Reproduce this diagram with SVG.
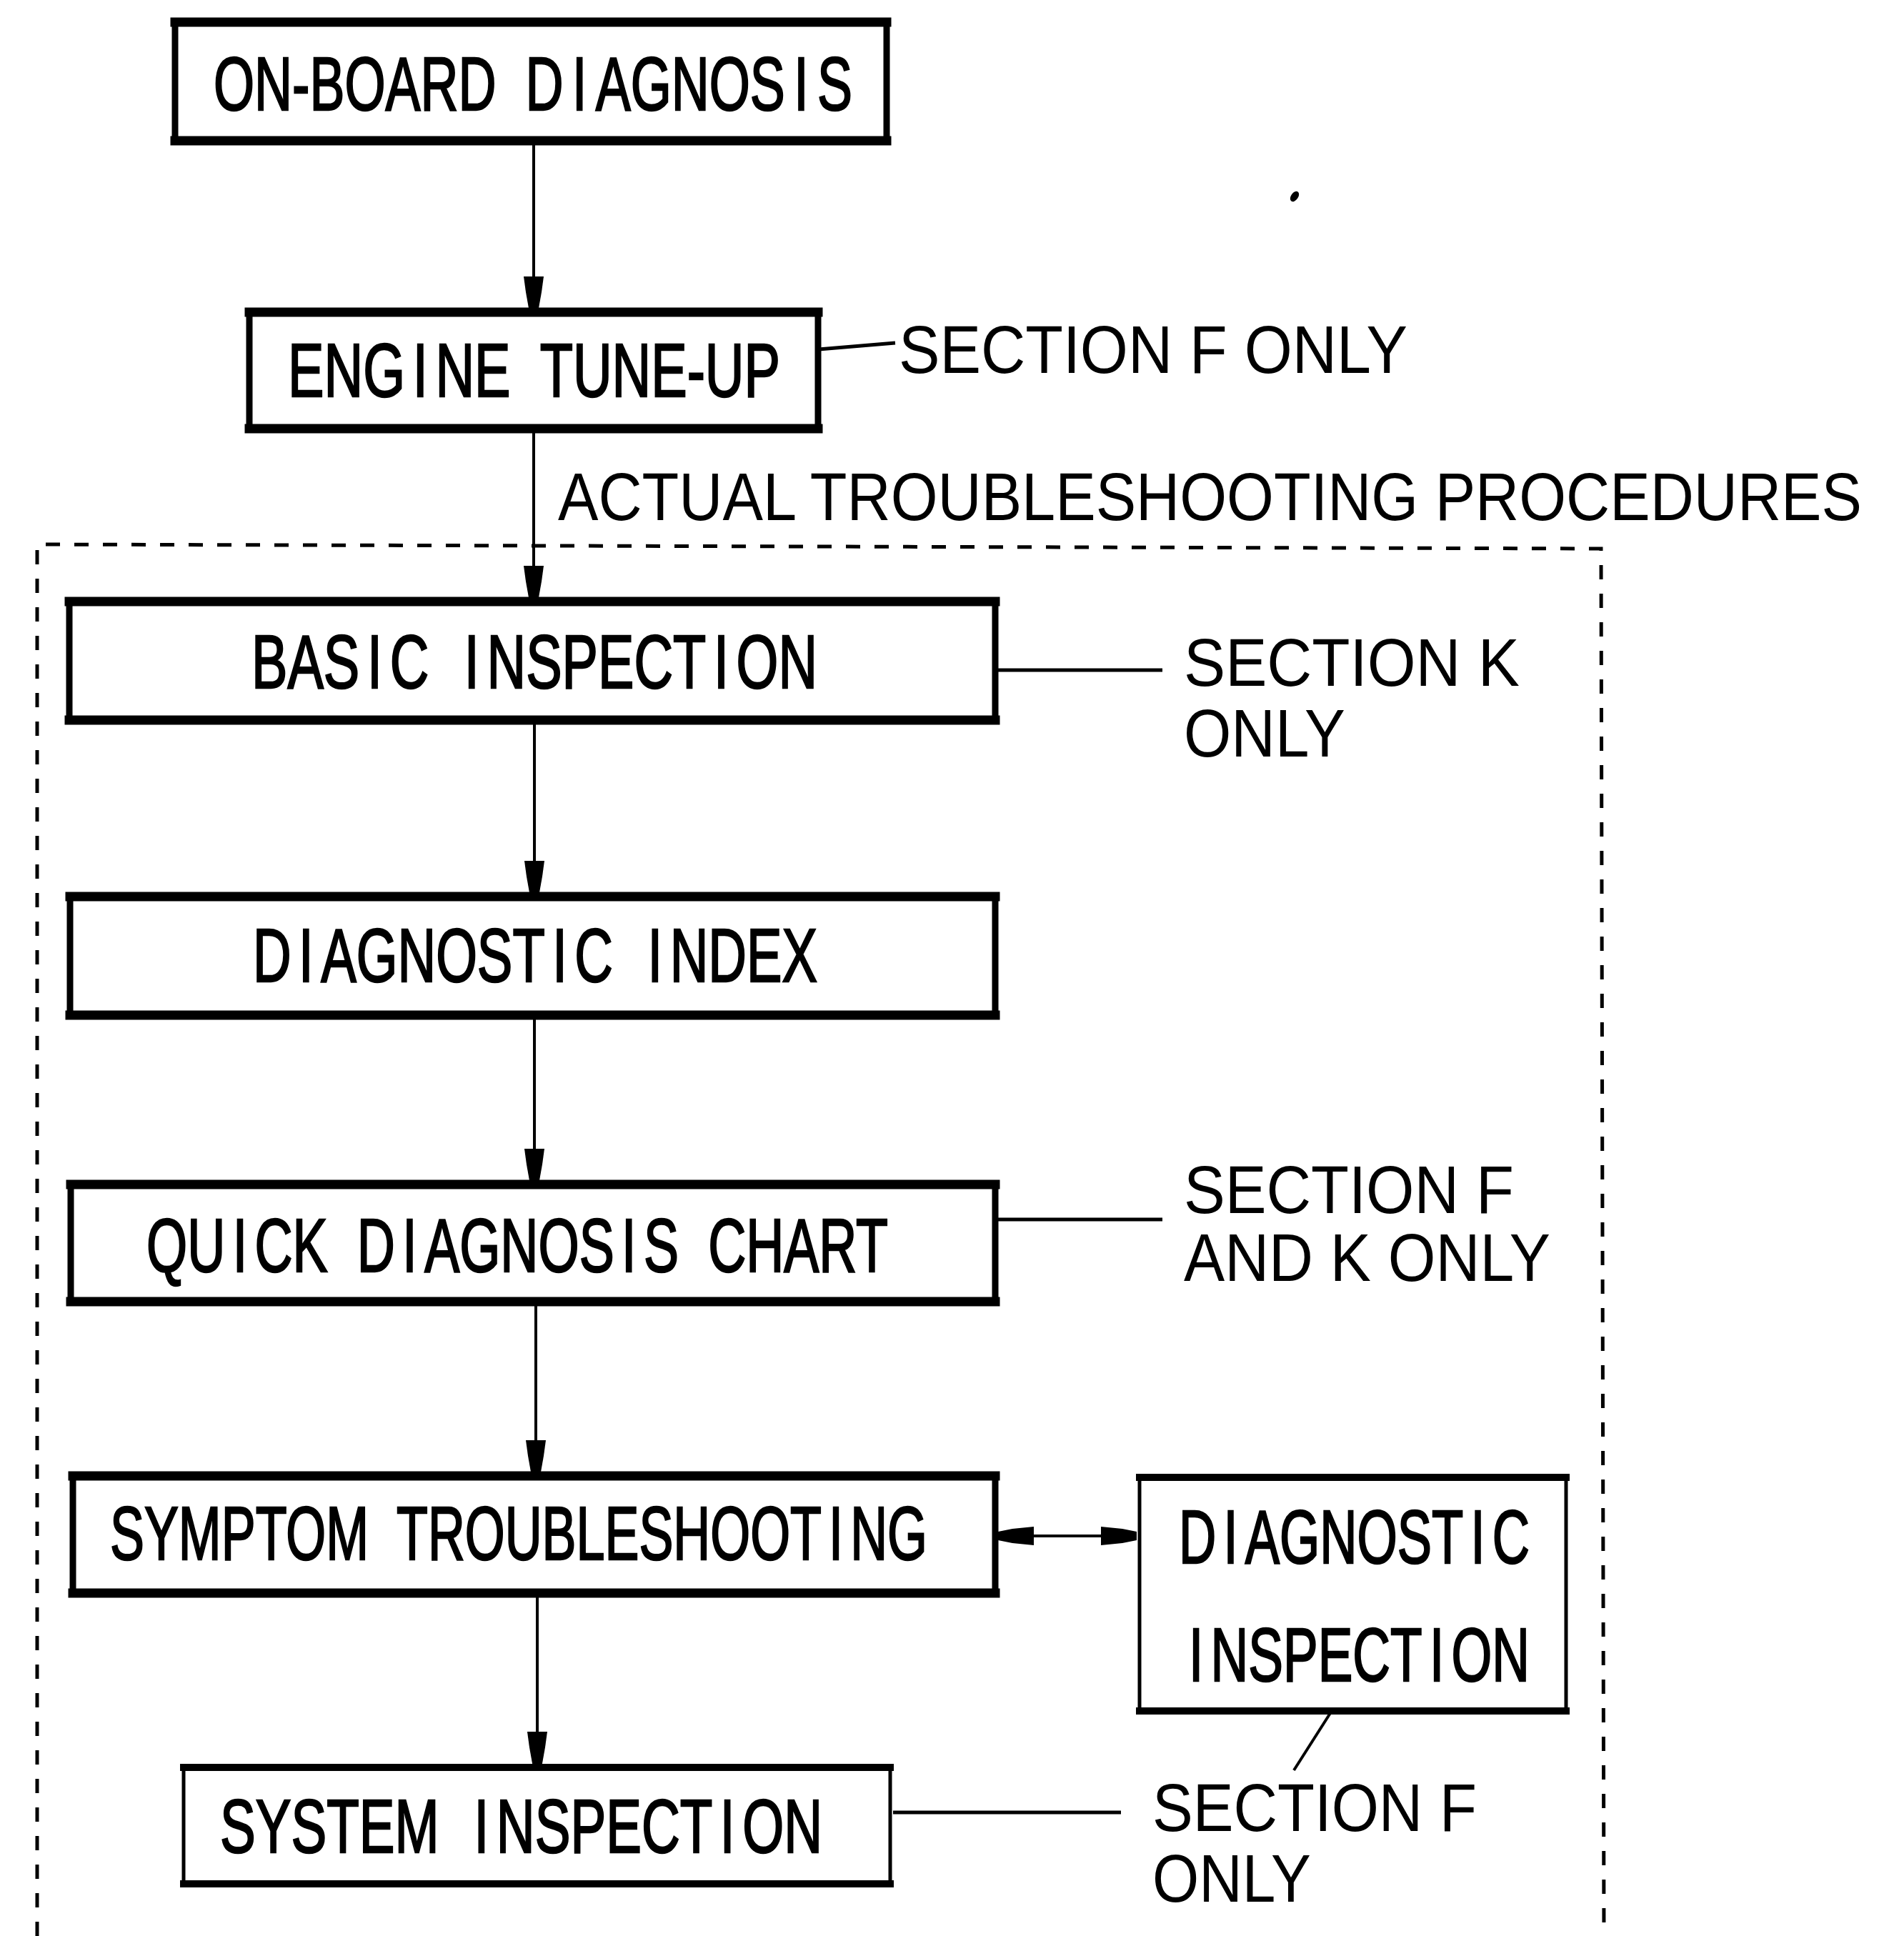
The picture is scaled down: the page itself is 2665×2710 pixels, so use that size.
<svg xmlns="http://www.w3.org/2000/svg" width="2665" height="2710" viewBox="0 0 2665 2710">
<style>
.box{fill:#fff;stroke:#000;stroke-width:9}
.edge{stroke:#000;stroke-width:13;stroke-linecap:square}
.bl{font-family:"Liberation Sans",Arial,sans-serif;font-size:106px;fill:#000;stroke:#000;stroke-width:2.5}
.lb{font-family:"Liberation Sans",Arial,sans-serif;font-size:94px;fill:#000}
.con{stroke:#000;stroke-width:4;fill:none}
.side{stroke:#000;stroke-width:5;fill:none}
</style>
<defs>
<marker id="ah" markerUnits="userSpaceOnUse" viewBox="0 -16 52 32" refX="50" refY="0" markerWidth="52" markerHeight="32" orient="auto">
<path d="M0,-14 L22,-11 L50,-6 L50,6 L22,11 L0,14 Z" fill="#000"/>
</marker>
<marker id="ah2" markerUnits="userSpaceOnUse" viewBox="0 -16 52 32" refX="50" refY="0" markerWidth="52" markerHeight="32" orient="auto-start-reverse">
<path d="M0,-13 L30,-10 L50,-6 L50,6 L30,10 L0,13 Z" fill="#000"/>
</marker>
</defs>
<rect width="2665" height="2710" fill="#fff"/>
<path d="M52,2710 L52,762 L2241,768 L2245,2710" fill="none" stroke="#000" stroke-width="5" stroke-dasharray="20 20"/>
<ellipse cx="1812" cy="275" rx="5" ry="8" transform="rotate(35 1812 275)" fill="#000"/>
<g id="connectors">
<line class="con" x1="747" y1="195" x2="747" y2="437" marker-end="url(#ah)"/>
<line class="con" x1="747" y1="600" x2="747" y2="842" marker-end="url(#ah)"/>
<line class="con" x1="748" y1="1010" x2="748" y2="1255" marker-end="url(#ah)"/>
<line class="con" x1="748" y1="1421" x2="748" y2="1658" marker-end="url(#ah)"/>
<line class="con" x1="750" y1="1822" x2="750" y2="2066" marker-end="url(#ah)"/>
<line class="con" x1="752" y1="2230" x2="752" y2="2474" marker-end="url(#ah)"/>
<line class="con" x1="1397" y1="2150" x2="1591" y2="2150" marker-start="url(#ah2)" marker-end="url(#ah2)"/>
<line class="side" x1="1146" y1="489" x2="1253" y2="480"/>
<line class="side" x1="1397" y1="938" x2="1627" y2="938"/>
<line class="side" x1="1397" y1="1707" x2="1627" y2="1707"/>
<line class="con" x1="1862" y1="2398" x2="1811" y2="2478"/>
<line class="side" x1="1250" y1="2537" x2="1569" y2="2537"/>
</g>
<g id="n-onboard">
<rect class="box" x="245" y="31" width="996" height="166"/>
<line class="edge" x1="245" y1="31" x2="1241" y2="31"/><line class="edge" x1="245" y1="197" x2="1241" y2="197"/>
<text class="bl" x="299" y="154" dx="0 0 0 0 0 0 0 0 0 30 18 18 0 0 0 0 18 18" textLength="894" lengthAdjust="spacingAndGlyphs">ON-BOARD DIAGNOSIS</text>
</g>
<g id="n-tuneup">
<rect class="box" x="349" y="437" width="796" height="163"/>
<line class="edge" x1="349" y1="437" x2="1145" y2="437"/><line class="edge" x1="349" y1="600" x2="1145" y2="600"/>
<text class="bl" x="403" y="555" dx="0 0 0 15 15 0 0 30" textLength="689" lengthAdjust="spacingAndGlyphs">ENGINE TUNE-UP</text>
</g>
<text class="lb" x="1258" y="522" textLength="712" lengthAdjust="spacingAndGlyphs">SECTION F ONLY</text>
<text class="lb" x="781" y="728" textLength="1825" lengthAdjust="spacingAndGlyphs">ACTUAL TROUBLESHOOTING PROCEDURES</text>
<g id="n-basic">
<rect class="box" x="97" y="842" width="1296" height="166"/>
<line class="edge" x1="97" y1="842" x2="1393" y2="842"/><line class="edge" x1="97" y1="1008" x2="1393" y2="1008"/>
<text class="bl" x="352" y="963" dx="0 0 0 15 15 0 40 15 0 0 0 0 0 15 15" textLength="792" lengthAdjust="spacingAndGlyphs">BASIC INSPECTION</text>
</g>
<text class="lb" x="1657" y="960" textLength="470" lengthAdjust="spacingAndGlyphs">SECTION K</text>
<text class="lb" x="1657" y="1059" textLength="226" lengthAdjust="spacingAndGlyphs">ONLY</text>
<g id="n-index">
<rect class="box" x="98" y="1255" width="1295" height="166"/>
<line class="edge" x1="98" y1="1255" x2="1393" y2="1255"/><line class="edge" x1="98" y1="1421" x2="1393" y2="1421"/>
<text class="bl" x="354" y="1374" dx="0 15 15 0 0 0 0 0 15 15 0 40 15" textLength="790" lengthAdjust="spacingAndGlyphs">DIAGNOSTIC INDEX</text>
</g>
<g id="n-quick">
<rect class="box" x="99" y="1658" width="1294" height="164"/>
<line class="edge" x1="99" y1="1658" x2="1393" y2="1658"/><line class="edge" x1="99" y1="1822" x2="1393" y2="1822"/>
<text class="bl" x="205" y="1780" dx="0 0 15 15 0 0 30 15 15 0 0 0 0 15 15 0 30" textLength="1038" lengthAdjust="spacingAndGlyphs">QUICK DIAGNOSIS CHART</text>
</g>
<text class="lb" x="1657" y="1698" textLength="462" lengthAdjust="spacingAndGlyphs">SECTION F</text>
<text class="lb" x="1657" y="1793" textLength="513" lengthAdjust="spacingAndGlyphs">AND K ONLY</text>
<g id="n-symptom">
<rect class="box" x="102" y="2066" width="1291" height="164"/>
<line class="edge" x1="102" y1="2066" x2="1393" y2="2066"/><line class="edge" x1="102" y1="2230" x2="1393" y2="2230"/>
<text class="bl" x="154" y="2183" dx="0 0 0 0 0 0 0 0 30 0 0 0 0 0 0 0 0 0 0 0 15 15" textLength="1144" lengthAdjust="spacingAndGlyphs">SYMPTOM TROUBLESHOOTING</text>
</g>
<g id="n-diaginsp">
<rect class="box" x="1595" y="2068" width="597" height="327" style="stroke-width:5"/>
<line class="edge" x1="1595" y1="2068" x2="2192" y2="2068" style="stroke-width:10"/><line class="edge" x1="1595" y1="2395" x2="2192" y2="2395" style="stroke-width:10"/>
<text class="bl" x="1650" y="2188" dx="0 15 15 0 0 0 0 0 15 15" textLength="491" lengthAdjust="spacingAndGlyphs">DIAGNOSTIC</text>
<text class="bl" x="1664" y="2353" dx="0 15 0 0 0 0 0 15 15" textLength="477" lengthAdjust="spacingAndGlyphs">INSPECTION</text>
</g>
<g id="n-system">
<rect class="box" x="257" y="2474" width="989" height="163" style="stroke-width:5"/>
<line class="edge" x1="257" y1="2474" x2="1246" y2="2474" style="stroke-width:10"/><line class="edge" x1="257" y1="2637" x2="1246" y2="2637" style="stroke-width:10"/>
<text class="bl" x="308" y="2593" dx="0 0 0 0 0 0 0 40 15 0 0 0 0 0 15 15" textLength="843" lengthAdjust="spacingAndGlyphs">SYSTEM INSPECTION</text>
</g>
<text class="lb" x="1613" y="2563" textLength="454" lengthAdjust="spacingAndGlyphs">SECTION F</text>
<text class="lb" x="1613" y="2662" textLength="222" lengthAdjust="spacingAndGlyphs">ONLY</text>
</svg>
